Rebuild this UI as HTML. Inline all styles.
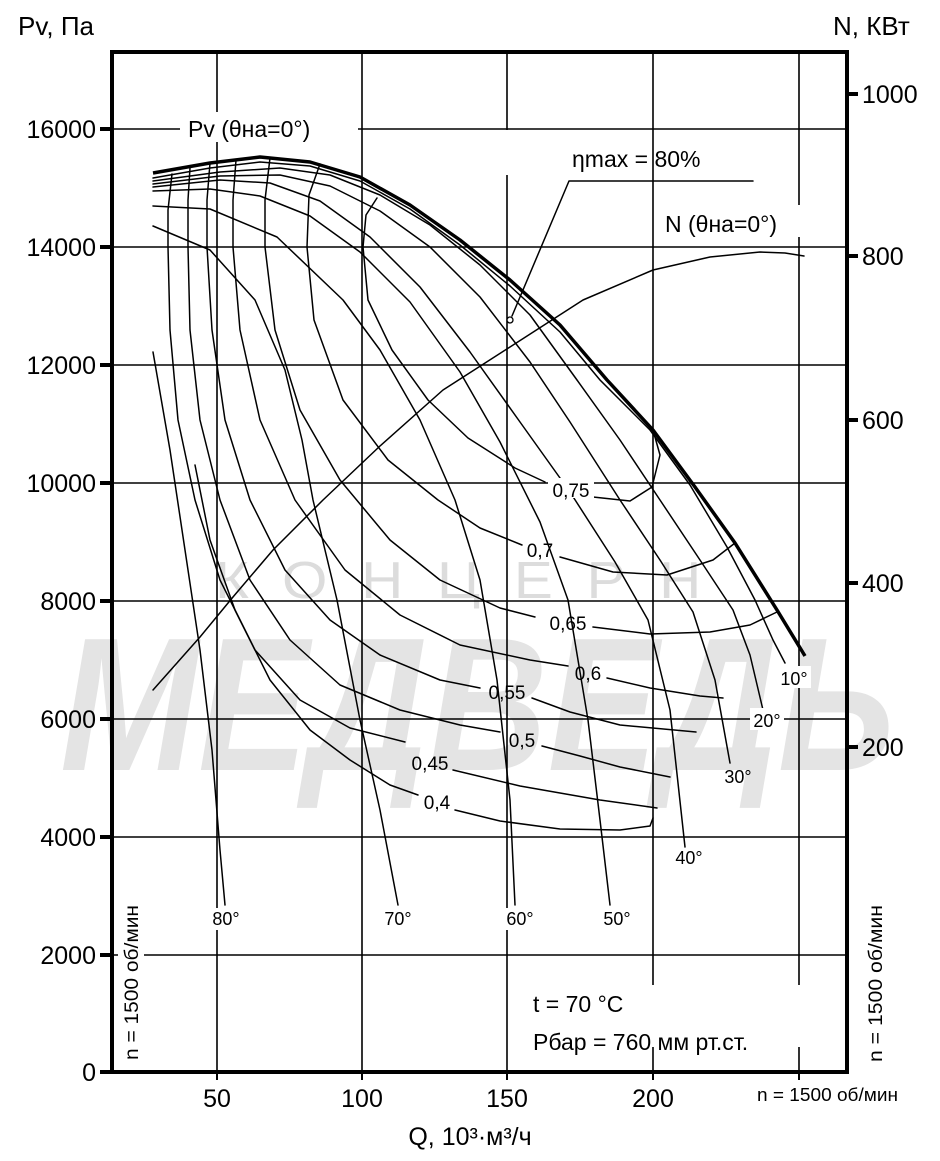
<!DOCTYPE html>
<html><head><meta charset="utf-8"><style>
html,body{margin:0;padding:0;background:#fff;}
svg{display:block;}
text{font-family:"Liberation Sans",Arial,sans-serif;fill:#000;}
</style></head><body>
<svg width="940" height="1161" viewBox="0 0 940 1161" xmlns="http://www.w3.org/2000/svg">
<rect width="940" height="1161" fill="#fff"/>
<!-- watermark -->
<text x="215" y="598" font-size="52" style="fill:#dcdcdc" textLength="520" lengthAdjust="spacingAndGlyphs" letter-spacing="30">КОНЦЕРН</text>
<text x="60" y="770" font-size="190" font-weight="bold" font-style="italic" style="fill:#e4e4e4" textLength="835" lengthAdjust="spacingAndGlyphs">МЕДВЕДЬ</text>

<g stroke="#000" stroke-width="1.6" fill="none">
<line x1="112" y1="129" x2="847" y2="129"/>
<line x1="112" y1="247" x2="847" y2="247"/>
<line x1="112" y1="365" x2="847" y2="365"/>
<line x1="112" y1="483" x2="847" y2="483"/>
<line x1="112" y1="601" x2="847" y2="601"/>
<line x1="112" y1="719" x2="847" y2="719"/>
<line x1="112" y1="837" x2="847" y2="837"/>
<line x1="112" y1="955" x2="847" y2="955"/>
<line x1="217" y1="52" x2="217" y2="1072"/>
<line x1="362" y1="52" x2="362" y2="1072"/>
<line x1="507" y1="52" x2="507" y2="1072"/>
<line x1="653" y1="52" x2="653" y2="1072"/>
<line x1="799" y1="52" x2="799" y2="1072"/>
</g>
<rect x="180" y="112" width="178" height="30" fill="#fff"/>
<rect x="525" y="985" width="305" height="62" fill="#fff"/>
<rect x="118" y="895" width="26" height="170" fill="#fff"/>
<rect x="660" y="205" width="150" height="32" fill="#fff"/>
<rect x="500" y="130" width="20" height="45" fill="#fff"/>

<g stroke="#000" stroke-width="1.5" fill="none" stroke-linejoin="round" stroke-linecap="round">
<polyline points="153,178 210,168 260,162 310,166 360,181 410,209 460,245 510,286 560,332 600,380 650,430 690,485 727,547 755,600 773,640 785,663"/>
<polyline points="153,181 220,172 280,168 330,175 380,195 430,225 480,265 530,315 577,380 620,440 660,500 700,560 733,610 750,655 763,710"/>
<polyline points="153,184 220,176 280,175 330,186 380,211 430,247 480,297 530,362 570,422 620,500 660,560 693,612 715,680 730,763"/>
<polyline points="153,187 220,180 270,183 320,201 370,237 420,287 470,352 520,422 570,492 615,562 648,620 670,710 685,847"/>
<polyline points="153,191 210,189 260,196 310,216 360,252 410,302 460,372 500,442 540,522 568,600 588,720 600,820 610,905"/>
<polyline points="153,206 210,209 277,237 343,300 380,350 420,420 455,500 480,580 497,680 510,800 515,905"/>
<polyline points="153,226 210,250 255,300 285,370 302,440 313,500 337,600 360,720 380,810 398,905"/>
<polyline points="153,352 170,450 185,550 200,650 212,750 220,850 225,905"/>
<polyline points="377,198 366,215 363,247 368,300 392,350 428,400 468,438 515,468 545,482"/>
<polyline points="593,497 630,501 652,487 660,455 653,430"/>
<polyline points="320,164 309,195 307,247 314,320 343,400 388,460 438,500 480,528 522,545"/>
<polyline points="560,557 613,572 667,575 713,560 735,543"/>
<polyline points="270,158 265,200 265,247 275,330 300,410 340,480 390,540 440,580 500,608 535,617"/>
<polyline points="593,627 650,634 710,632 750,625 777,612"/>
<polyline points="236,160 233,200 233,247 240,330 260,420 295,500 345,570 400,615 460,645 530,660 568,666"/>
<polyline points="607,678 650,688 700,696 723,698"/>
<polyline points="210,163 207,200 207,247 212,330 225,420 250,500 285,570 330,620 380,655 440,680 480,688"/>
<polyline points="532,698 570,712 620,725 696,732"/>
<polyline points="190,168 188,200 188,247 190,330 200,420 220,500 250,580 290,640 340,685 400,710 460,725 500,732"/>
<polyline points="542,746 580,756 620,767 670,777"/>
<polyline points="172,174 168,210 168,247 170,330 178,420 195,500 220,580 255,650 300,700 350,728 405,742"/>
<polyline points="453,770 520,786 600,800 657,808"/>
<polyline points="195,465 210,540 235,610 270,680 310,730 350,760 390,785 418,795"/>
<polyline points="455,810 500,821 560,829 620,830 650,826 653,818"/>
<polyline points="153,690 200,637 233,597 273,550 323,500 380,446 443,390 510,347 583,300 653,270 710,257 760,252 785,253 804,256"/>
<polyline points="512,316 569,181 753,181"/>
</g>
<circle cx="510" cy="320" r="3" fill="#fff" stroke="#000" stroke-width="1.3"/>
<polyline points="153,173 210,163 260,157 310,162 360,177 410,205 460,240 510,280 560,325 607,380 653,430 695,487 735,543 777,610 805,656" fill="none" stroke="#000" stroke-width="3.5" stroke-linejoin="round"/>

<rect x="112" y="52" width="735" height="1020" fill="none" stroke="#000" stroke-width="4"/>
<g stroke="#000" stroke-width="4">
<line x1="100" y1="129" x2="112" y2="129"/><line x1="100" y1="247" x2="112" y2="247"/>
<line x1="100" y1="365" x2="112" y2="365"/><line x1="100" y1="483" x2="112" y2="483"/>
<line x1="100" y1="601" x2="112" y2="601"/><line x1="100" y1="719" x2="112" y2="719"/>
<line x1="100" y1="837" x2="112" y2="837"/><line x1="100" y1="955" x2="112" y2="955"/>
<line x1="100" y1="1072" x2="112" y2="1072"/>
<line x1="847" y1="94" x2="858" y2="94"/><line x1="847" y1="256" x2="858" y2="256"/>
<line x1="847" y1="420" x2="858" y2="420"/><line x1="847" y1="583" x2="858" y2="583"/>
<line x1="847" y1="747" x2="858" y2="747"/>
</g>
<g stroke="#000" stroke-width="2">
<line x1="217" y1="1072" x2="217" y2="1080"/><line x1="362" y1="1072" x2="362" y2="1080"/>
<line x1="507" y1="1072" x2="507" y2="1080"/><line x1="653" y1="1072" x2="653" y2="1080"/>
<line x1="799" y1="1072" x2="799" y2="1080"/>
</g>

<g font-size="25" text-anchor="end">
<text x="96" y="138">16000</text><text x="96" y="256">14000</text>
<text x="96" y="374">12000</text><text x="96" y="492">10000</text>
<text x="96" y="610">8000</text><text x="96" y="728">6000</text>
<text x="96" y="846">4000</text><text x="96" y="964">2000</text>
<text x="96" y="1081">0</text>
</g>
<g font-size="25">
<text x="862" y="103">1000</text><text x="862" y="265">800</text>
<text x="862" y="429">600</text><text x="862" y="592">400</text>
<text x="862" y="756">200</text>
</g>
<g font-size="25" text-anchor="middle">
<text x="217" y="1107">50</text><text x="362" y="1107">100</text>
<text x="507" y="1107">150</text><text x="653" y="1107">200</text>
<text x="470" y="1145">Q, 10³·м³/ч</text>
</g>
<text x="18" y="35" font-size="26">Pv, Па</text>
<text x="833" y="35" font-size="26">N, КВт</text>
<text x="757" y="1101" font-size="18" textLength="141" lengthAdjust="spacingAndGlyphs">n = 1500 об/мин</text>
<text transform="translate(138,1060) rotate(-90)" font-size="19" textLength="155" lengthAdjust="spacingAndGlyphs">n = 1500 об/мин</text>
<text transform="translate(882,1062) rotate(-90)" font-size="19" textLength="157" lengthAdjust="spacingAndGlyphs">n = 1500 об/мин</text>

<g font-size="23">
<text x="188" y="137">Pv (θна=0°)</text>
<text x="572" y="167">ηmax = 80%</text>
<text x="665" y="232">N (θна=0°)</text>
<text x="533" y="1012">t = 70 °C</text>
<text x="533" y="1050">Pбар = 760 мм рт.ст.</text>
</g>
<g font-size="19" text-anchor="middle">
<rect x="548" y="478" width="46" height="20" fill="#fff"/>
<text x="571" y="497">0,75</text>
<text x="540" y="557">0,7</text>
<text x="568" y="630">0,65</text>
<text x="588" y="680">0,6</text>
<text x="507" y="699">0,55</text>
<text x="522" y="747">0,5</text>
<text x="430" y="770">0,45</text>
<text x="437" y="809">0,4</text>
</g>
<g font-size="18" text-anchor="middle">
<rect x="210" y="908" width="32" height="22" fill="#fff"/>
<rect x="383" y="908" width="32" height="22" fill="#fff"/>
<rect x="504" y="908" width="32" height="22" fill="#fff"/>
<rect x="750" y="708" width="34" height="22" fill="#fff"/>
<rect x="777" y="666" width="34" height="22" fill="#fff"/>
<text x="226" y="925">80°</text>
<text x="398" y="925">70°</text>
<text x="520" y="925">60°</text>
<text x="617" y="925">50°</text>
<text x="689" y="864">40°</text>
<text x="738" y="783">30°</text>
<text x="767" y="727">20°</text>
<text x="794" y="685">10°</text>
</g>
</svg>
</body></html>
